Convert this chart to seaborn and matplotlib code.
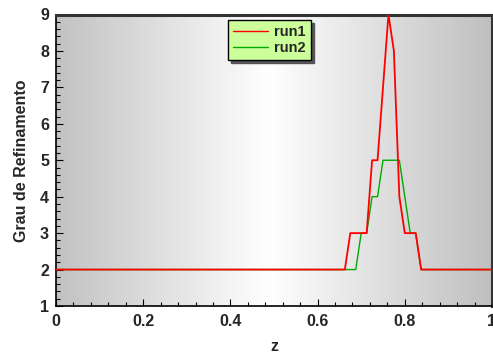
import numpy as np
import pandas as pd
import matplotlib
matplotlib.use("Agg")
import matplotlib.pyplot as plt
import seaborn as sns
from matplotlib.lines import Line2D

sns.set_style("ticks")
plt.rcParams['font.family'] = ['Liberation Sans', 'DejaVu Sans']
plt.rcParams['font.weight'] = 'bold'

z_run1 = [0.0, 0.6625, 0.675, 0.7125, 0.725, 0.7375, 0.7625, 0.775, 0.7875, 0.8, 0.825, 0.8375, 1.0]
v_run1 = [2, 2, 3, 3, 5, 5, 9, 8, 4, 3, 3, 2, 2]
z_run2 = [0.0, 0.6875, 0.7, 0.7125, 0.725, 0.7375, 0.75, 0.7875, 0.8, 0.8125, 0.825, 0.8375, 1.0]
v_run2 = [2, 2, 3, 3, 4, 4, 5, 5, 4, 3, 3, 2, 2]
labels = ["run1", "run2"]
colors = ["#ff0000", "#00aa00"]

df1 = pd.DataFrame({"z": z_run1, "grau": v_run1, "run": labels[0]})
df2 = pd.DataFrame({"z": z_run2, "grau": v_run2, "run": labels[1]})

fig = plt.figure(figsize=(4.93, 3.56), dpi=100)
ax = fig.add_axes([56/493, 1 - 306/356, (492-56)/493, (306-14.5)/356])

# background gradient
xs = np.linspace(0, 1, 256)
g = 1 - 0.25 * np.abs(xs - 0.49) / 0.51
img = np.stack([g, g, g], axis=-1)[None, :, :]
img = np.repeat(img, 2, axis=0)
ax.imshow(img, extent=[0, 1, 1, 9], aspect='auto', zorder=0, interpolation='bilinear')

sns.lineplot(data=df2, x="z", y="grau", color=colors[1], lw=1.0, ax=ax, estimator=None, sort=False, zorder=3)
sns.lineplot(data=df1, x="z", y="grau", color=colors[0], lw=1.3, ax=ax, estimator=None, sort=False, zorder=4)

ax.set_xlim(0, 1)
ax.set_ylim(1, 9)
ax.set_xticks([0, 0.2, 0.4, 0.6, 0.8, 1.0])
ax.set_xticklabels(["0", "0.2", "0.4", "0.6", "0.8", "1"])
ax.set_yticks(range(1, 10))
ax.xaxis.set_minor_locator(matplotlib.ticker.MultipleLocator(0.04))
ax.yaxis.set_minor_locator(matplotlib.ticker.MultipleLocator(0.2))
ax.tick_params(which='both', direction='in', top=False, right=False, labelsize=11.5, width=0.8, color='black')
ax.tick_params(which='major', length=5)
ax.tick_params(which='minor', length=3)
for lab in ax.get_xticklabels() + ax.get_yticklabels():
    lab.set_fontweight('bold')
ax.tick_params(axis='x', pad=6)
ax.tick_params(axis='y', pad=5)

ax.set_xlabel("z", fontsize=11.5, fontweight='bold', labelpad=7)
ax.set_ylabel("Grau de Refinamento", fontsize=11.5, fontweight='bold', labelpad=8)

for s in ['left', 'bottom']:
    ax.spines[s].set_linewidth(1.2)
    ax.spines[s].set_color('black')
for s in ['top', 'right']:
    ax.spines[s].set_linewidth(2.2)
    ax.spines[s].set_color('#333333')
    ax.spines[s].set_visible(True)

handles = [Line2D([], [], color=colors[0], lw=1.0), Line2D([], [], color=colors[1], lw=1.0)]
leg = ax.legend(handles, labels, loc='upper center', bbox_to_anchor=(0.49, 0.982),
                frameon=True, fancybox=False, shadow={'color': '#555555', 'alpha': 1.0},
                facecolor='#ccff99', edgecolor='black', framealpha=1.0,
                prop={'weight': 'bold', 'size': 10.5}, handlelength=2.4, handletextpad=0.4,
                borderpad=0.35, labelspacing=0.15, borderaxespad=0)
leg.get_frame().set_linewidth(1.0)

fig.savefig("out.png", dpi=100)
